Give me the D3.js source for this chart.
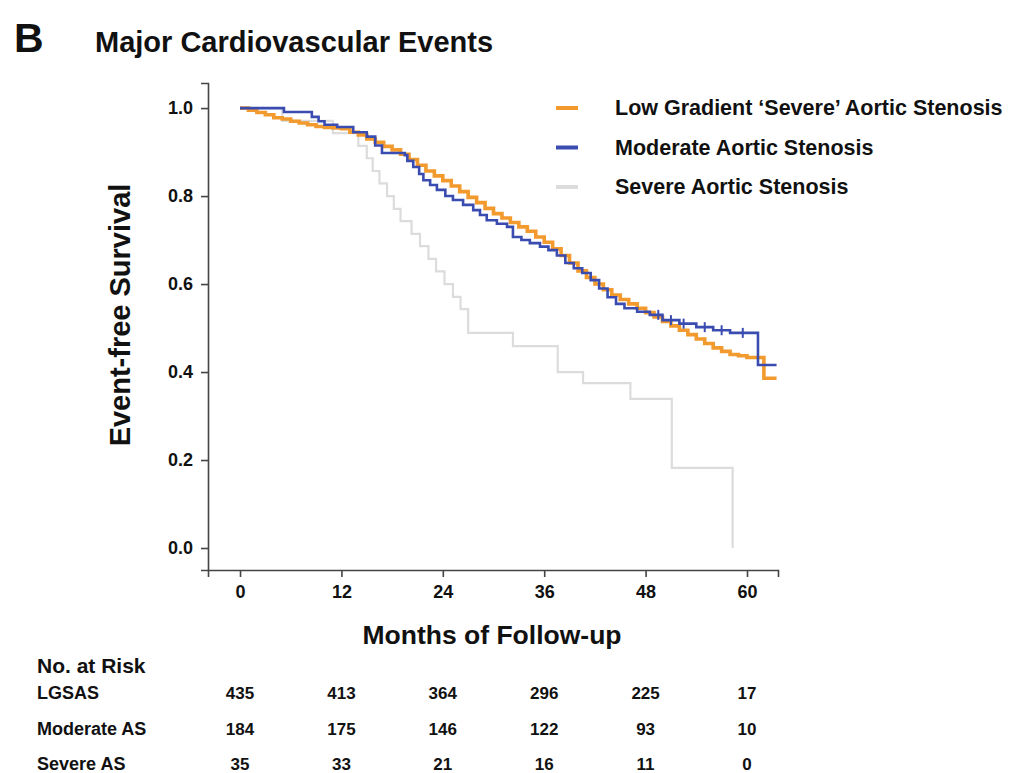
<!DOCTYPE html>
<html>
<head>
<meta charset="UTF-8">
<title>Major Cardiovascular Events</title>
<style>
  body { margin: 0; background: #fff; }
  text { font-family: "Liberation Sans", Arial, sans-serif; font-weight: bold; fill: #111; }
  .narrow { font-family: "Liberation Sans Narrow", "Liberation Sans", Arial, sans-serif; }
</style>
</head>
<body>
<svg id="chart"></svg>
<script src="https://d3js.org/d3.v7.min.js"></script>
<script>
// Kaplan-Meier steps: month of step, survival after step
var lgsasT = [0,1,2,3,4,5,6,7,8,9,10,11,12,13,14,15,16,17,18,19,20,21,22,23,24,25,26,27,28,29,30,
  31,32,33,34,35,36,37,38,39,40,41,42,43,44,45,46,47,48,49,50,51,52,53,54,55,56,57,58,59,60,62,63.5];
var lgsasS = [1,0.995,0.99,0.985,0.978,0.975,0.97,0.966,0.962,0.958,0.956,0.955,0.953,0.945,0.939,0.93,
  0.922,0.913,0.905,0.895,0.883,0.87,0.857,0.846,0.835,0.823,0.81,0.797,0.785,0.772,0.76,0.75,0.74,0.73,
  0.72,0.707,0.695,0.68,0.665,0.648,0.63,0.615,0.6,0.587,0.575,0.565,0.555,0.545,0.535,0.525,0.515,0.505,
  0.495,0.485,0.475,0.465,0.455,0.447,0.44,0.437,0.433,0.386,0.386];

var moderateT = [0,5.2,8.5,9.3,10,11.5,13.4,15,16,16.8,19.5,19.8,20.5,21.2,21.7,22.5,23.3,24.3,25.2,26.4,
  27.6,28.4,29.2,30.4,31.6,32.3,33.3,34.3,35.5,36.5,37.5,38.5,39.5,40.5,41.5,42.5,43.5,44.5,45.5,47,48.5,
  50,52,54,56,58,61.3,63.5];
var moderateS = [1,0.991,0.98,0.97,0.962,0.957,0.945,0.935,0.915,0.898,0.893,0.88,0.866,0.85,0.836,0.825,
  0.814,0.8,0.791,0.78,0.768,0.757,0.745,0.737,0.73,0.707,0.7,0.693,0.685,0.677,0.665,0.648,0.636,0.625,
  0.609,0.59,0.57,0.555,0.545,0.537,0.53,0.518,0.51,0.502,0.495,0.489,0.416,0.416];
var moderateCensor = [49.5,51,52.5,55,57,59.5];

var severeT = [0,5,11,14,15,15.7,16.5,17.4,18.2,19,20.3,21.3,22.3,23.2,24.2,25.2,26.1,27,32.3,37.6,40.6,46.2,51.1,58.3];
var severeS = [1,0.971,0.943,0.914,0.886,0.857,0.829,0.8,0.771,0.743,0.714,0.686,0.657,0.629,0.6,0.571,0.543,
  0.489,0.459,0.4,0.375,0.339,0.182,0];

var seriesNames = ["Low Gradient \u2018Severe\u2019 Aortic Stenosis", "Moderate Aortic Stenosis", "Severe Aortic Stenosis"];
var seriesColors = ["#f29a2e", "#3b4cb0", "#dcdcdc"];

var xTicks = [0,12,24,36,48,60];
var yTicks = [0,0.2,0.4,0.6,0.8,1.0];

var riskGroups = ["LGSAS", "Moderate AS", "Severe AS"];
var riskLGSAS = [435,413,364,296,225,17];
var riskModerate = [184,175,146,122,93,10];
var riskSevere = [35,33,21,16,11,0];

var width = 1017, height = 773;
var svg = d3.select("#chart").attr("width", width).attr("height", height);

var x = d3.scaleLinear().domain([-3.79, 63.67]).range([208, 778]);
var y = d3.scaleLinear().domain([-0.05, 1.057]).range([570, 83]);

// panel letter + title
svg.append("text").attr("x", 14).attr("y", 52).style("font-size", "41px").text("B");
svg.append("text").attr("x", 95).attr("y", 52).style("font-size", "29px").text("Major Cardiovascular Events");

// axes
var xAxis = svg.append("g").attr("transform", "translate(0,570)")
  .call(d3.axisBottom(x).tickValues(xTicks).tickSize(7).tickPadding(8));
var yAxis = svg.append("g").attr("transform", "translate(208,0)")
  .call(d3.axisLeft(y).tickValues(yTicks).tickSize(7).tickPadding(8).tickFormat(d3.format(".1f")));
[xAxis, yAxis].forEach(function(a){
  a.select(".domain").attr("stroke", "#444").attr("stroke-width", 1.6);
  a.selectAll(".tick line").attr("stroke", "#444").attr("stroke-width", 1.6);
  a.selectAll(".tick text").style("font-size", "18px").style("font-family", "Liberation Sans, Arial").style("font-weight", "bold").attr("fill", "#111");
});

svg.append("text").attr("transform", "translate(130,315) rotate(-90)")
  .attr("text-anchor", "middle").style("font-size", "29px").text("Event-free Survival");
svg.append("text").attr("x", 492).attr("y", 644)
  .attr("text-anchor", "middle").style("font-size", "26.5px").text("Months of Follow-up");

// curves
var line = d3.line().x(function(d){ return x(d[0]); }).y(function(d){ return y(d[1]); }).curve(d3.curveStepAfter);
var curves = [
  { t: severeT, s: severeS, c: seriesColors[2], w: 2.2 },
  { t: lgsasT, s: lgsasS, c: seriesColors[0], w: 3.6 },
  { t: moderateT, s: moderateS, c: seriesColors[1], w: 2.6 }
];
curves.forEach(function(cv){
  var pts = cv.t.map(function(t, i){ return [t, cv.s[i]]; });
  svg.append("path").datum(pts).attr("d", line)
    .attr("fill", "none").attr("stroke", cv.c).attr("stroke-width", cv.w);
});

// censor ticks on moderate curve
var stepAt = function(t){
  var i = d3.bisectRight(moderateT, t) - 1;
  return moderateS[Math.max(i, 0)];
};
svg.selectAll(".censor").data(moderateCensor).enter().append("line")
  .attr("x1", function(d){ return x(d); }).attr("x2", function(d){ return x(d); })
  .attr("y1", function(d){ return y(stepAt(d)) - 5; }).attr("y2", function(d){ return y(stepAt(d)) + 5; })
  .attr("stroke", seriesColors[1]).attr("stroke-width", 2);

// legend
var leg = svg.append("g");
seriesNames.forEach(function(name, i){
  var cy = 108 + i * 39.5;
  leg.append("line").attr("x1", 556).attr("x2", 578).attr("y1", cy).attr("y2", cy)
    .attr("stroke", seriesColors[i]).attr("stroke-width", 4);
  leg.append("text").attr("x", 615).attr("y", cy + 7).style("font-size", "21.5px").text(name);
});

// number at risk table
svg.append("text").attr("x", 37).attr("y", 673).style("font-size", "21px").text("No. at Risk");
var riskRows = [riskLGSAS, riskModerate, riskSevere];
riskRows.forEach(function(row, r){
  var by = 699 + r * 35.5;
  svg.append("text").attr("x", 37).attr("y", by).style("font-size", "18px").text(riskGroups[r]);
  svg.selectAll(null).data(row).enter().append("text")
    .attr("class", "narrow")
    .attr("x", function(d, i){ return x(xTicks[i]); })
    .attr("y", by).attr("text-anchor", "middle").style("font-size", "17px")
    .text(function(d){ return d; });
});
</script>
</body>
</html>
